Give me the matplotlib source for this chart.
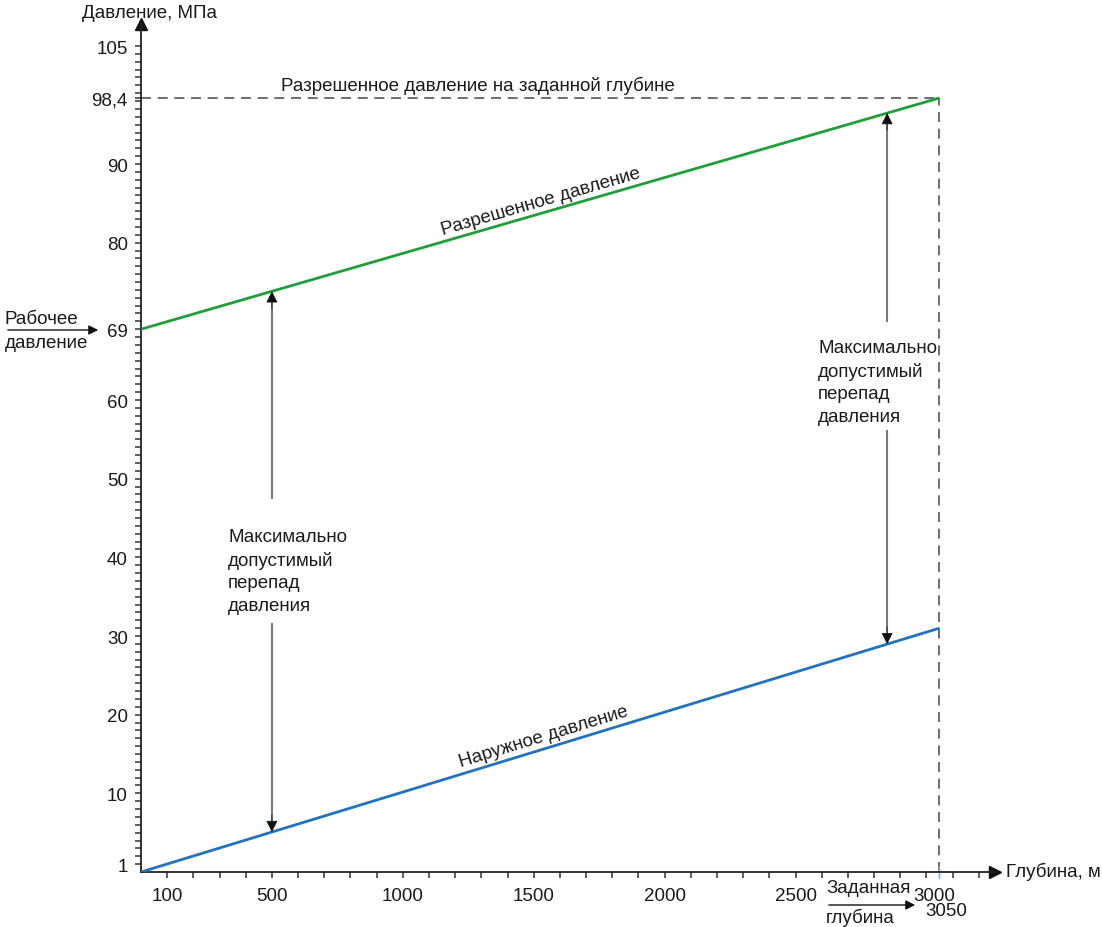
import numpy as np
import matplotlib
matplotlib.use("Agg")
import matplotlib.pyplot as plt
import matplotlib.transforms as mtransforms

plt.rcParams['font.family'] = ['Liberation Sans', 'DejaVu Sans']

# ---- data ----
depth = [0, 3050]                 # m
allowed_pressure = [69, 98.4]     # MPa (green)
external_pressure = [0, 31]       # MPa (blue)
target_depth = 3050
target_pressure = 98.4
arrow_depths = [500, 2850]
# text gaps in the double arrows (MPa): (lower end, upper end)
arrow_gaps = [(31.5, 47.5), (56.0, 70.0)]

x_major_ticks = [100, 500, 1000, 1500, 2000, 2500, 3000]
x_major_labels = ["100", "500", "1000", "1500", "2000", "2500", "3000"]
y_major_ticks = [1, 10, 20, 30, 40, 50, 60, 69, 80, 90, 98.4, 105]
y_major_labels = ["1", "10", "20", "30", "40", "50", "60", "69", "80", "90", "98,4", "105"]

W, H = 1102, 928
fig = plt.figure(figsize=(W / 100, H / 100), dpi=100)
fx = lambda px: px / W
fy = lambda py: 1 - py / H

ax = fig.add_axes([fx(141), fy(873), (995 - 141) / W, (873 - 25) / H])
ax.set_xlim(0, 3262)
ax.set_ylim(0, 107.8)

GREEN = '#1f9e3a'
BLUE = '#2372c0'
DASH = '#555555'
TXT = '#1a1a1a'
FS = 13.5

for s in ['top', 'right']:
    ax.spines[s].set_visible(False)
for s in ['left', 'bottom']:
    ax.spines[s].set_linewidth(1.3)
    ax.spines[s].set_color('#222222')

# axis arrows
ax.plot(1, 0, '>', color='#111111', ms=9, transform=ax.transAxes, clip_on=False)
ax.plot(0, 1, '^', color='#111111', ms=9, transform=ax.transAxes, clip_on=False)

# ticks
ax.set_xticks(x_major_ticks)
ax.set_xticklabels(x_major_labels)
ax.set_xticks(np.arange(100, 3201, 100), minor=True)
ax.set_yticks(y_major_ticks)
ax.set_yticklabels(y_major_labels)
ax.set_yticks(np.arange(1, 106, 1), minor=True)
ax.tick_params(axis='both', which='both', direction='out', length=4.5, width=1.1,
               color='#333333', labelsize=FS, labelcolor=TXT)
ax.tick_params(axis='x', which='major', pad=6)
ax.tick_params(axis='y', which='major', pad=5)
ax.get_yticklines()[2 * y_major_ticks.index(69)].set_color(GREEN)
ax.get_yticklines()[2 * y_major_ticks.index(98.4)].set_color('#7fb3e0')
for lbl in ax.get_xticklabels():
    if lbl.get_text() == "3000":
        lbl.set_transform(lbl.get_transform() + mtransforms.ScaledTranslation(6 / 72, 0, fig.dpi_scale_trans))

# dashed reference lines
ax.plot([0, target_depth], [target_pressure, target_pressure], color=DASH, lw=1.2,
        dashes=(6, 4))
ax.plot([target_depth, target_depth], [0, target_pressure], color=DASH, lw=1.2,
        dashes=(6, 4))
ax.plot([target_depth, target_depth], [0, 0], marker='|', color='#7fb3e0', ms=8,
        clip_on=False)

# pressure lines
ax.plot(depth, allowed_pressure, color=GREEN, lw=2, solid_capstyle='butt', zorder=3)
ax.plot(depth, external_pressure, color=BLUE, lw=2, solid_capstyle='butt', zorder=3)


def interp(xs, ys, x):
    return np.interp(x, xs, ys)


# double arrows with a gap for the text
txt = "Максимально\nдопустимый\nперепад\nдавления"
text_pos = [(228, 572), (818, 383)]
for d, (g0, g1), (tx, ty) in zip(arrow_depths, arrow_gaps, text_pos):
    y_lo = interp(depth, external_pressure, d)
    y_hi = interp(depth, allowed_pressure, d)
    ax.plot([d, d], [y_lo + 1.5, g0], color='#7a7a7a', lw=1.5)
    ax.plot([d, d], [g1, y_hi - 1.5], color='#7a7a7a', lw=1.5)
    ax.annotate('', xy=(d, y_hi), xytext=(d, y_hi - 2.2),
                arrowprops=dict(arrowstyle='-|>', color='#111111', lw=0.5,
                                mutation_scale=18, shrinkA=0, shrinkB=0))
    ax.annotate('', xy=(d, y_lo), xytext=(d, y_lo + 2.2),
                arrowprops=dict(arrowstyle='-|>', color='#111111', lw=0.5,
                                mutation_scale=18, shrinkA=0, shrinkB=0))
    fig.text(fx(tx), fy(ty), txt, fontsize=FS, ha='left', va='center',
             linespacing=1.42, color=TXT)


# rotated line labels
def line_label(xs, ys, x, text):
    p0 = ax.transData.transform((xs[0], ys[0]))
    p1 = ax.transData.transform((xs[1], ys[1]))
    ang = np.degrees(np.arctan2(p1[1] - p0[1], p1[0] - p0[0]))
    y = interp(xs, ys, x)
    off = mtransforms.offset_copy(ax.transData, fig=fig,
                                  x=-np.sin(np.radians(ang)) * 2.5,
                                  y=np.cos(np.radians(ang)) * 2.5, units='points')
    ax.text(x, y, text, rotation=ang, rotation_mode='anchor', ha='center', va='bottom',
            fontsize=FS, color=TXT, transform=off)


line_label(depth, allowed_pressure, 1540, "Разрешенное давление")
line_label(depth, external_pressure, 1550, "Наружное давление")

# free texts
fig.text(fx(150), fy(14), "Давление, МПа", fontsize=FS, ha='center', va='center', color=TXT)
fig.text(fx(478), fy(86), "Разрешенное давление на заданной глубине", fontsize=FS,
         ha='center', va='center', color=TXT)
fig.text(fx(1006), fy(872), "Глубина, м", fontsize=FS, ha='left', va='center', color=TXT)

# Рабочее давление
fig.text(fx(5), fy(320), "Рабочее", fontsize=FS, ha='left', va='center', color=TXT)
fig.text(fx(5), fy(343), "давление", fontsize=FS, ha='left', va='center', color=TXT)
fig.add_artist(matplotlib.patches.FancyArrowPatch((fx(5), fy(331)), (fx(101), fy(331)),
               transform=fig.transFigure, arrowstyle='-|>', mutation_scale=14,
               color='#111111', lw=1.0))

# Заданная глубина
fig.text(fx(826), fy(889), "Заданная", fontsize=FS, ha='left', va='center', color=TXT)
fig.text(fx(826), fy(918), "глубина", fontsize=FS, ha='left', va='center', color=TXT)
fig.add_artist(matplotlib.patches.FancyArrowPatch((fx(826), fy(906)), (fx(918), fy(906)),
               transform=fig.transFigure, arrowstyle='-|>', mutation_scale=14,
               color='#111111', lw=1.0))
fig.text(fx(946), fy(912), "3050", fontsize=FS, ha='center', va='center', color=TXT)

fig.savefig("out.png", dpi=100, facecolor='white')
